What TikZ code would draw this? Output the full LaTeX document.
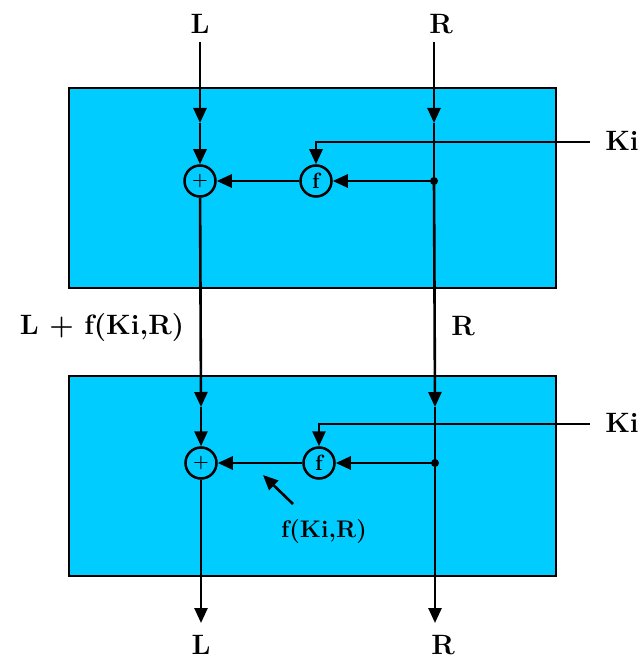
\documentclass[tikz,border=0pt]{standalone}
\usetikzlibrary{arrows.meta}
\definecolor{boxblue}{RGB}{0,204,255}
\begin{document}
\begin{tikzpicture}[x=1pt,y=-1pt,
  lbl/.style={font=\fontsize{28}{32}\selectfont\bfseries, inner sep=0pt},
  sublbl/.style={font=\fontsize{24}{28}\selectfont\bfseries, inner sep=0pt},
  roundbox/.style={circle, draw, line width=2.5pt, minimum size=31pt, inner sep=0pt},
  roundlbl/.style={font=\fontsize{22}{24}\selectfont\bfseries},
  plusname/.style={font=\fontsize{18}{20}\selectfont\bfseries},
  stagebox/.style={draw, line width=2pt, fill=boxblue, minimum width=487pt, minimum height=200pt, inner sep=0pt},
  wire/.style={line width=2.6pt},
  arr/.style={wire, -{Triangle[length=15pt,width=13pt]}},
]
\useasboundingbox (0,0) rectangle (643,660);

% stage boxes
\node[stagebox] (box1) at (312.5,188) {};
\node[stagebox] (box2) at (312.5,476) {};

% labels
\node[lbl] (Ltop) at (200,24) {L};
\node[lbl] (Rtop) at (441,24) {R};
\node[lbl] (Ki1) at (622,141) {Ki};
\node[lbl] (Ki2) at (622,423) {Ki};
\node[lbl] (Lmid) at (102,328) {L + f(Ki,R)};
\node[lbl] (Rmid) at (463,326) {R};
\node[sublbl] (fKR) at (324,532) {f(Ki,R)};
\node[lbl] (Lbot) at (201,645) {L};
\node[lbl] (Rbot) at (443,645) {R};

% operator circles
\node[roundbox, plusname] (plus1) at (200,181) {+};
\node[roundbox, roundlbl] (f1) at (316,181) {f};
\node[roundbox, plusname] (plus2) at (201,463) {+};
\node[roundbox, roundlbl] (f2) at (319,463) {f};

% coordinates
\coordinate (Ls) at (200,42);
\coordinate (Rs) at (434,42);
\coordinate (L1in) at (200,123);
\coordinate (R1in) at (434,123);
\coordinate (Rdot1) at (434,181);
\coordinate (Ki1s) at (590,142);
\coordinate (Ki1c) at (316,142);
\coordinate (L2in) at (201,407);
\coordinate (R2in) at (435,407);
\coordinate (Rdot2) at (435,463);
\coordinate (Ki2s) at (590,424);
\coordinate (Ki2c) at (319,424);
\coordinate (Le) at (201,623);
\coordinate (Re) at (435,623);
\coordinate (pa) at (293,504);
\coordinate (pb) at (263,475);

% stage 1
\draw[arr] (Ls) -- (L1in);
\draw[arr] (L1in) -- (plus1);
\draw[arr] (Rs) -- (R1in);
\draw[wire] (R1in) -- (Rdot1);
\fill (Rdot1) circle (4pt);
\draw[arr] (Rdot1) -- (f1);
\draw[arr] (f1) -- (plus1);
\draw[arr] (Ki1s) -- (Ki1c) -- (f1);

% between stages
\draw[arr] (plus1) -- (L2in);
\draw[arr] (Rdot1) -- (R2in);

% stage 2
\draw[arr] (L2in) -- (plus2);
\draw[wire] (R2in) -- (Rdot2);
\fill (Rdot2) circle (4pt);
\draw[arr] (Rdot2) -- (f2);
\draw[arr] (f2) -- (plus2);
\draw[arr] (Ki2s) -- (Ki2c) -- (f2);
\draw[arr] (pa) -- (pb);

% outputs
\draw[arr] (plus2) -- (Le);
\draw[arr] (Rdot2) -- (Re);
\end{tikzpicture}
\end{document}
